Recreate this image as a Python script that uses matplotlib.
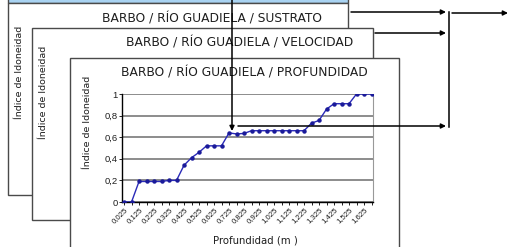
import matplotlib.pyplot as plt
from matplotlib.patches import Rectangle

plt.rcParams['font.family'] = ['Liberation Sans', 'DejaVu Sans']

# depth classes (m) and suitability index
depth_labels = ['0,025', '0,075', '0,125', '0,175', '0,225', '0,275', '0,325',
                '0,375', '0,425', '0,475', '0,525', '0,575', '0,625', '0,675',
                '0,725', '0,775', '0,825', '0,875', '0,925', '0,975', '1,025',
                '1,075', '1,125', '1,175', '1,225', '1,275', '1,325', '1,375',
                '1,425', '1,475', '1,525', '1,575', '1,625', '1,675']
suitability = [0, 0, 0.19, 0.19, 0.19, 0.19, 0.2, 0.2, 0.34, 0.41, 0.46,
               0.52, 0.52, 0.52, 0.64, 0.63, 0.635, 0.66, 0.66, 0.66, 0.66,
               0.66, 0.66, 0.66, 0.66, 0.73, 0.755, 0.86, 0.91, 0.91, 0.91,
               1, 1, 1]
y_ticks = [0, 0.2, 0.4, 0.6, 0.8, 1]
y_tick_labels = ['0', '0,2', '0,4', '0,6', '0,8', '1']
titles = ['BARBO / RÍO GUADIELA / SUSTRATO',
          'BARBO / RÍO GUADIELA / VELOCIDAD',
          'BARBO / RÍO GUADIELA / PROFUNDIDAD']
ylabel = 'Índice de Idoneidad'

W, H = 508, 247
fig = plt.figure(figsize=(W / 100, H / 100), dpi=100)

# background in pixel coordinates
bg = fig.add_axes([0, 0, 1, 1])
bg.set_xlim(0, W)
bg.set_ylim(H, 0)
bg.axis('off')

edge = '#4a4a4a'
txt = '#1e1e1e'
# window-like stripe at the very top
bg.add_patch(Rectangle((8, -5), 340, 8, facecolor='#a9d3f2', edgecolor=edge,
                       lw=1, zorder=0.5))
# stacked panels (x0, y0, x1, y1)
panels = [(8, 3, 348, 195), (32, 28, 373, 220), (70, 58, 399, 262)]
title_pos = [(212, 19), (240, 43), (244, 73)]
ylab_pos = [(20, 72), (44, 92), (88, 122)]
for i, (x0, y0, x1, y1) in enumerate(panels):
    bg.add_patch(Rectangle((x0, y0), x1 - x0, y1 - y0, facecolor='white',
                           edgecolor=edge, lw=1, zorder=1 + i))
    bg.text(*title_pos[i], titles[i], ha='center', va='center', fontsize=8.8,
            family='DejaVu Sans', color=txt, zorder=1 + i)
    bg.text(*ylab_pos[i], ylabel, ha='center', va='center', rotation=90,
            fontsize=6.8, family='DejaVu Sans', color=txt, zorder=1 + i)

# chart of the front panel
ax = fig.add_axes([122 / W, (H - 202) / H, 251 / W, 108 / H])
x = range(len(depth_labels))
ax.plot(x, suitability, color='#2a2ab8', lw=1, marker='o', ms=2.2,
        markerfacecolor='#1a1a9a', markeredgecolor='#1a1a9a', zorder=3)
ax.set_xlim(-0.27, 33.2)
ax.set_ylim(0, 1)
ax.set_yticks(y_ticks)
ax.set_yticklabels(y_tick_labels, fontsize=6.8, color=txt)
ax.set_xticks(list(x))
ax.set_xticklabels([lab if i % 2 == 0 else '' for i, lab in enumerate(depth_labels)],
                   rotation=45, ha='right', rotation_mode='anchor', fontsize=5.6,
                   color=txt)
ax.tick_params(axis='both', length=2, width=0.6, pad=1)
ax.grid(axis='y', color='#6e6e6e', lw=1.1)
ax.set_axisbelow(True)
ax.spines['top'].set_visible(False)
ax.spines['right'].set_color('#999999')
ax.spines['left'].set_linewidth(1)
ax.spines['bottom'].set_linewidth(1)
ax.set_xlabel('Profundidad (m )', fontsize=7.3, family='DejaVu Sans', color=txt)
ax.xaxis.set_label_coords(0.53, -0.31)

# connectors and arrows on top
ov = fig.add_axes([0, 0, 1, 1], zorder=10)
ov.set_xlim(0, W)
ov.set_ylim(H, 0)
ov.axis('off')
arrow = dict(arrowstyle='-|>', color='black', lw=1.1, mutation_scale=7,
             shrinkA=0, shrinkB=0)
ov.annotate('', xy=(232, 131), xytext=(232, 0), arrowprops=arrow)
ov.annotate('', xy=(446, 126), xytext=(238, 126), arrowprops=arrow)
ov.annotate('', xy=(446, 12), xytext=(351, 12), arrowprops=arrow)
ov.annotate('', xy=(446, 33), xytext=(375, 33), arrowprops=arrow)
ov.plot([449, 449], [12, 127], color='black', lw=1.1)
ov.annotate('', xy=(508, 13), xytext=(452, 13), arrowprops=arrow)

fig.savefig('out.png', dpi=100)
